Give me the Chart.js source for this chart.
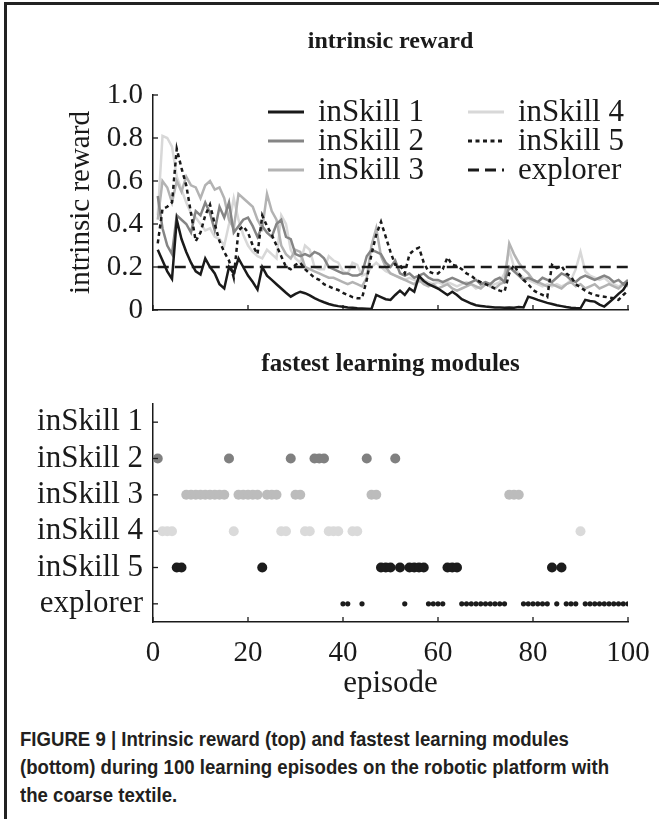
<!DOCTYPE html>
<html>
<head>
<meta charset="utf-8">
<script src="https://cdn.jsdelivr.net/npm/chart.js@4.4.1/dist/chart.umd.min.js"></script>
<style>
html,body{margin:0;padding:0;background:#fff;width:659px;height:819px;overflow:hidden;}
#frameTop{position:absolute;left:4px;top:2px;width:655px;height:0;border-top:3px solid #222;}
#frameLeft{position:absolute;left:4px;top:2px;width:0;height:817px;border-left:3px solid #222;}
.ttl{position:absolute;left:153px;width:475px;text-align:center;font-family:'Liberation Serif',serif;font-weight:bold;color:#1a1a1a;}
#c1wrap{position:absolute;left:0;top:0;width:659px;height:340px;}
#c2wrap{position:absolute;left:0;top:340px;width:659px;height:380px;}
#caption{position:absolute;left:20px;top:725px;width:700px;font-family:'Liberation Sans Narrow','Liberation Sans',Arial,sans-serif;font-weight:bold;font-size:20px;line-height:28px;color:#231f20;transform:scaleX(0.93);transform-origin:0 0;white-space:nowrap;}
</style>
</head>
<body>
<div id="frameTop"></div>
<div id="frameLeft"></div>
<div id="c1wrap"><canvas id="c1" width="659" height="340"></canvas></div>
<div id="c2wrap"><canvas id="c2" width="659" height="380"></canvas></div>
<div class="ttl" style="top:27px;font-size:24px;">intrinsic reward</div>
<div class="ttl" style="top:349px;font-size:25px;">fastest learning modules</div>
<div id="caption">FIGURE 9 | Intrinsic reward (top) and fastest learning modules<br>(bottom) during 100 learning episodes on the robotic platform with<br>the coarse textile.</div>
<script>
// ---------- data ----------
const episodes = Array.from({length: 100}, (_, i) => i + 1);
const seriesLabels = ['inSkill 1', 'inSkill 2', 'inSkill 3', 'inSkill 4', 'inSkill 5', 'explorer'];
const yTickLabels = ['0', '0.2', '0.4', '0.6', '0.8', '1.0'];
const xTickLabels = ['0', '20', '40', '60', '80', '100'];

const rewardSkill1 = [0.28,0.23,0.18,0.145,0.42,0.33,0.27,0.22,0.18,0.165,
  0.24,0.2,0.17,0.12,0.1,0.2,0.17,0.24,0.2,0.16,
  0.13,0.095,0.2,0.16,0.14,0.12,0.1,0.08,0.062,0.075,
  0.085,0.078,0.068,0.055,0.045,0.036,0.028,0.022,0.018,0.015,
  0.012,0.01,0.008,0.007,0.006,0.005,0.07,0.06,0.05,0.047,
  0.07,0.09,0.07,0.1,0.085,0.158,0.135,0.12,0.11,0.1,
  0.085,0.07,0.085,0.07,0.05,0.04,0.03,0.022,0.019,0.016,
  0.014,0.012,0.012,0.011,0.012,0.01,0.014,0.012,0.062,0.055,
  0.047,0.04,0.033,0.028,0.022,0.018,0.014,0.011,0.009,0.008,
  0.047,0.042,0.039,0.025,0.016,0.035,0.054,0.075,0.093,0.13];
const rewardSkill2 = [0.53,0.38,0.3,0.26,0.44,0.42,0.4,0.36,0.46,0.44,
  0.5,0.45,0.37,0.48,0.43,0.5,0.36,0.39,0.42,0.43,
  0.39,0.34,0.39,0.36,0.34,0.4,0.42,0.34,0.33,0.26,
  0.25,0.26,0.25,0.27,0.26,0.24,0.2,0.19,0.18,0.17,
  0.17,0.16,0.16,0.17,0.25,0.28,0.27,0.26,0.22,0.2,
  0.23,0.17,0.16,0.17,0.15,0.16,0.17,0.15,0.14,0.14,
  0.13,0.14,0.15,0.14,0.13,0.12,0.13,0.14,0.12,0.13,
  0.12,0.14,0.15,0.13,0.2,0.18,0.16,0.14,0.15,0.14,
  0.13,0.15,0.14,0.13,0.15,0.17,0.16,0.14,0.13,0.15,
  0.16,0.15,0.14,0.15,0.16,0.15,0.13,0.14,0.12,0.14];
const rewardSkill3 = [0.42,0.6,0.57,0.5,0.6,0.55,0.62,0.58,0.57,0.52,
  0.58,0.6,0.56,0.57,0.52,0.42,0.38,0.54,0.52,0.5,
  0.48,0.42,0.38,0.54,0.46,0.42,0.3,0.26,0.24,0.28,
  0.27,0.2,0.19,0.18,0.17,0.16,0.15,0.15,0.14,0.13,
  0.12,0.13,0.12,0.11,0.15,0.3,0.38,0.25,0.2,0.17,
  0.16,0.15,0.14,0.13,0.12,0.14,0.12,0.11,0.12,0.1,
  0.11,0.12,0.1,0.09,0.1,0.11,0.12,0.11,0.1,0.12,
  0.11,0.1,0.12,0.13,0.31,0.26,0.22,0.19,0.17,0.14,
  0.13,0.12,0.11,0.12,0.11,0.1,0.12,0.13,0.11,0.12,
  0.1,0.11,0.12,0.1,0.11,0.12,0.11,0.1,0.12,0.11];
const rewardSkill4 = [0.44,0.81,0.8,0.76,0.62,0.56,0.5,0.45,0.43,0.4,
  0.37,0.38,0.34,0.33,0.3,0.4,0.52,0.42,0.35,0.3,
  0.27,0.25,0.24,0.28,0.26,0.24,0.44,0.4,0.28,0.24,
  0.22,0.3,0.28,0.2,0.19,0.19,0.25,0.23,0.22,0.18,
  0.17,0.22,0.21,0.16,0.17,0.2,0.22,0.2,0.18,0.17,
  0.16,0.15,0.14,0.15,0.14,0.13,0.14,0.13,0.12,0.13,
  0.12,0.13,0.12,0.11,0.12,0.13,0.12,0.1,0.11,0.12,
  0.11,0.12,0.13,0.17,0.28,0.2,0.17,0.15,0.14,0.13,
  0.12,0.11,0.12,0.11,0.12,0.11,0.12,0.14,0.19,0.27,
  0.18,0.16,0.15,0.14,0.15,0.13,0.12,0.11,0.12,0.12];
const rewardSkill5 = [0.31,0.47,0.48,0.5,0.75,0.66,0.58,0.45,0.32,0.36,
  0.44,0.49,0.4,0.32,0.27,0.23,0.15,0.37,0.39,0.36,
  0.3,0.26,0.44,0.39,0.35,0.3,0.25,0.2,0.19,0.21,
  0.22,0.19,0.17,0.15,0.14,0.12,0.11,0.1,0.093,0.08,
  0.07,0.06,0.055,0.055,0.14,0.26,0.35,0.41,0.34,0.27,
  0.21,0.21,0.17,0.26,0.28,0.29,0.22,0.18,0.17,0.17,
  0.19,0.245,0.21,0.205,0.19,0.17,0.16,0.14,0.13,0.12,
  0.11,0.1,0.09,0.085,0.17,0.21,0.17,0.14,0.12,0.093,
  0.08,0.07,0.06,0.21,0.195,0.205,0.17,0.155,0.12,0.105,
  0.09,0.078,0.07,0.065,0.062,0.058,0.055,0.047,0.07,0.09];
const rewardExplorer = [0.2,0.2,0.2,0.2,0.2,0.2,0.2,0.2,0.2,0.2,
  0.2,0.2,0.2,0.2,0.2,0.2,0.2,0.2,0.2,0.2,
  0.2,0.2,0.2,0.2,0.2,0.2,0.2,0.2,0.2,0.2,
  0.2,0.2,0.2,0.2,0.2,0.2,0.2,0.2,0.2,0.2,
  0.2,0.2,0.2,0.2,0.2,0.2,0.2,0.2,0.2,0.2,
  0.2,0.2,0.2,0.2,0.2,0.2,0.2,0.2,0.2,0.2,
  0.2,0.2,0.2,0.2,0.2,0.2,0.2,0.2,0.2,0.2,
  0.2,0.2,0.2,0.2,0.2,0.2,0.2,0.2,0.2,0.2,
  0.2,0.2,0.2,0.2,0.2,0.2,0.2,0.2,0.2,0.2,
  0.2,0.2,0.2,0.2,0.2,0.2,0.2,0.2,0.2,0.2];

// episodes in which each module was the fastest learner
const fastSkill1 = [];
const fastSkill2 = [1,16,29,34,35,36,45,51];
const fastSkill3 = [7,8,9,10,11,12,13,14,15,18,19,20,21,22,24,25,26,30,31,46,47,75,76,77];
const fastSkill4 = [2,3,4,17,27,28,32,33,37,38,39,42,43,90];
const fastSkill5 = [5,6,23,48,49,50,52,54,55,56,57,62,63,64,84,86];
const fastExplorer = [40,41,44,53,58,59,60,61,65,66,67,68,69,70,71,72,73,74,78,79,80,81,82,83,85,87,88,89,91,92,93,94,95,96,97,98,99,100];

// ---------- styling ----------
const SERIF = "'Liberation Serif', 'Times New Roman', serif";
const INK = '#1a1a1a';
const lineColors = ['#1a1a1a', '#858585', '#b3b3b3', '#d8d8d8', '#1a1a1a', '#1a1a1a'];
const lineDashes = [[], [], [], [], [4, 3.5], [11, 6]];
const dotColors = ['#1a1a1a', '#808080', '#bcbcbc', '#dadada', '#1c1c1c', '#1c1c1c'];
const dotRadii = [5, 5, 5, 5, 5, 2.6];

// inward tick marks
const inwardTicks = {
  id: 'inwardTicks',
  afterDatasetsDraw(chart) {
    const ctx = chart.ctx;
    ctx.save();
    ctx.strokeStyle = INK;
    ctx.lineWidth = 1.3;
    const xs = chart.scales.x, ys = chart.scales.y;
    xs.ticks.forEach((t, i) => {
      const px = xs.getPixelForTick(i);
      ctx.beginPath(); ctx.moveTo(px, xs.top); ctx.lineTo(px, xs.top - 5); ctx.stroke();
    });
    ys.ticks.forEach((t, i) => {
      const py = ys.getPixelForTick(i);
      ctx.beginPath(); ctx.moveTo(ys.right, py); ctx.lineTo(ys.right + 5, py); ctx.stroke();
    });
    ctx.restore();
  }
};

// two-column legend inside the top chart
const lineLegend = {
  id: 'lineLegend',
  afterDraw(chart) {
    const ctx = chart.ctx;
    const colX = [268, 468];
    const rowY = [112, 141, 170];
    ctx.save();
    ctx.font = '31px ' + SERIF;
    ctx.textBaseline = 'middle';
    ctx.fillStyle = INK;
    chart.data.datasets.forEach((ds, i) => {
      const x = colX[Math.floor(i / 3)], y = rowY[i % 3];
      ctx.strokeStyle = ds.borderColor;
      ctx.lineWidth = 3;
      ctx.setLineDash(ds.borderDash || []);
      ctx.beginPath(); ctx.moveTo(x, y); ctx.lineTo(x + 36, y); ctx.stroke();
      ctx.setLineDash([]);
      ctx.fillText(ds.label, x + 50, y + 1);
    });
    ctx.restore();
  }
};

const rewardSeries = [rewardSkill1, rewardSkill2, rewardSkill3, rewardSkill4, rewardSkill5, rewardExplorer];
const lineDatasets = rewardSeries.map((vals, i) => ({
  label: seriesLabels[i],
  data: vals.map((v, k) => ({x: episodes[k], y: v})),
  borderColor: lineColors[i],
  borderWidth: 2.5,
  borderDash: lineDashes[i],
  pointRadius: 0,
  tension: 0,
  fill: false
}));
// draw lighter lines first so dark lines sit on top
lineDatasets.forEach((d, i) => { d.order = [3, 4, 5, 6, 1, 2][i]; });

new Chart(document.getElementById('c1'), {
  type: 'line',
  data: { datasets: lineDatasets },
  options: {
    responsive: false,
    animation: false,
    layout: { padding: { top: 95, right: 31, left: 0, bottom: 0 } },
    plugins: { legend: { display: false }, title: { display: false }, tooltip: { enabled: false } },
    scales: {
      x: {
        type: 'linear', min: 0, max: 100,
        ticks: { display: false, stepSize: 20 },
        grid: { display: false },
        border: { display: true, color: INK, width: 1.5 },
        afterFit(s) { s.height = 30; }
      },
      y: {
        type: 'linear', min: 0, max: 1,
        ticks: {
          stepSize: 0.2, padding: 2, color: INK, autoSkip: false,
          font: { family: SERIF, size: 29 },
          callback: (v) => yTickLabels[Math.round(v * 5)]
        },
        grid: { display: false },
        border: { display: true, color: INK, width: 1.5 },
        title: { display: true, text: 'intrinsic reward', color: INK, font: { family: SERIF, size: 29 }, padding: { top: 64 } },
        afterFit(s) { s.width = 153; }
      }
    }
  },
  plugins: [inwardTicks, lineLegend]
});

const fastLists = [fastSkill1, fastSkill2, fastSkill3, fastSkill4, fastSkill5, fastExplorer];
const dotDatasets = fastLists.map((eps, i) => ({
  label: seriesLabels[i],
  data: eps.map(e => ({x: e, y: seriesLabels[i]})),
  backgroundColor: dotColors[i],
  borderWidth: 0,
  pointRadius: dotRadii[i],
  pointHoverRadius: dotRadii[i]
}));

new Chart(document.getElementById('c2'), {
  type: 'scatter',
  data: { datasets: dotDatasets },
  options: {
    responsive: false,
    animation: false,
    layout: { padding: { top: 64, right: 31, left: 0, bottom: 0 } },
    plugins: { legend: { display: false }, tooltip: { enabled: false } },
    scales: {
      x: {
        type: 'linear', min: 0, max: 100,
        ticks: { stepSize: 20, padding: 6, color: INK, autoSkip: false, maxRotation: 0, font: { family: SERIF, size: 29 },
          callback: (v) => xTickLabels[Math.round(v / 20)] },
        grid: { display: false },
        border: { display: true, color: INK, width: 1.5 },
        title: { display: true, text: 'episode', color: INK, font: { family: SERIF, size: 31 }, padding: { bottom: 18 } },
        afterFit(s) { s.height = 98; }
      },
      y: {
        type: 'category', labels: seriesLabels, offset: true,
        ticks: { padding: 2, color: INK, autoSkip: false, font: { family: SERIF, size: 31 } },
        grid: { display: false },
        border: { display: true, color: INK, width: 1.5 },
        afterFit(s) { s.width = 153; }
      }
    }
  },
  plugins: [inwardTicks]
});
</script>
</body>
</html>
